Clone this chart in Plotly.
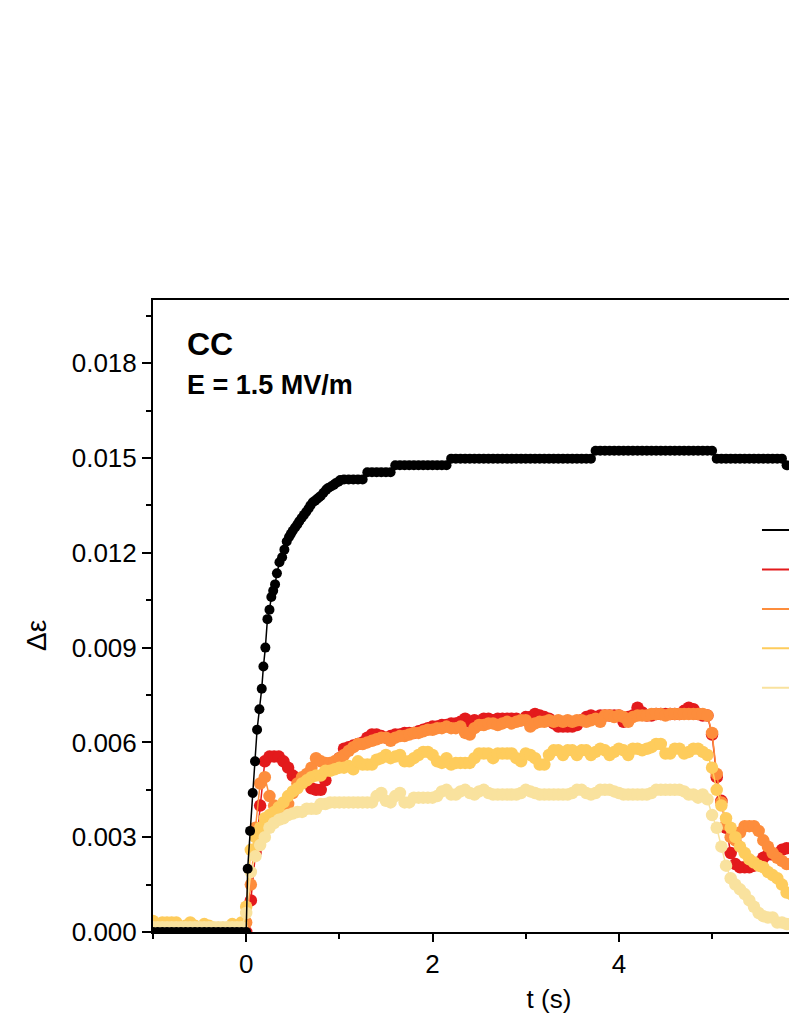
import plotly.graph_objects as go

# ---------------- data (strain in units of 1e-4) ----------------
# common time grid for the coloured series: -1.00 .. 6.00 s, step 0.05 s
T_START = -1.0
T_STEP = 0.05

red_v = [
    0.5, 0.5, 0.5, 0.5, 0.5, 0.5, 0.5, 0.5, 0.5, 0.5, 0.5, 0.5, 0.5, 0.5, 0.5, 0.5, 0.5, 0.5, 0.5, 0.5,
    0, 10, 25, 40, 54, 55.5, 55.5, 55.5, 54, 52, 49.5, 48.5, 48.5, 47.5, 45.5, 45, 45, 48, 52, 53,
    55, 58, 58.5, 59, 59.5, 60, 61.5, 62.5, 62.5, 62, 61.5, 62, 62.5, 62.5, 63, 63, 63, 63.5, 64, 64.5,
    65, 65, 65.5, 65.5, 66, 66, 66.5, 67.5, 66.5, 67, 66.5, 67.5, 67.5, 67, 67.5, 67.5, 67.5, 67.5, 67.5, 67,
    68, 68, 69, 68.5, 68, 67.5, 66, 65, 65, 65, 65, 65.5, 67, 68, 68.5, 68, 68.5, 68.5, 68.5, 68.5,
    68.5, 66.5, 68, 68.5, 71, 69.5, 68.5, 68.5, 69, 69, 69, 69, 69, 69, 70, 71, 70.5, 69, 68.5, 68.5,
    62.5, 49, 41.5, 33, 25, 21.5, 20.5, 20.5, 20.5, 21, 22, 23.5, 24.5, 24.5, 24.5, 26, 26.5, 26.5, 27, 27,
    27,
]

orange_v = [
    1, 1, 1, 1, 1, 1, 1, 1, 1, 1, 1, 1, 1, 1, 1, 1, 1, 1, 1, 1,
    3, 15, 33, 47, 49, 43, 40, 38.5, 38, 40.5, 44, 47, 49, 50, 52, 55, 54, 53.5, 53.5, 54,
    55, 56, 57.3, 58.5, 59.5, 59.5, 60, 60.5, 61, 61.5, 61.5, 60.5, 61.5, 62, 62, 62.5, 63, 63, 63.5, 64,
    64, 64.5, 64.5, 65, 64.5, 64.5, 65, 63, 62.5, 64.5, 65.5, 65.5, 66, 66, 65.5, 66, 66.5, 66, 66.5, 67,
    67, 65, 66, 66.5, 66.5, 67, 66.5, 67, 66.5, 67, 66.5, 67, 67, 66.5, 67, 67.5, 66.5, 68.5, 68.5, 68,
    68.5, 68, 66.5, 68, 68.5, 68.5, 68.5, 69, 69, 69, 68.5, 69, 69, 69, 69, 69, 69, 69, 69, 68.5,
    63, 50, 41, 34, 30, 29, 31.5, 33.5, 33.5, 33.5, 32, 29, 27, 25, 23.5, 22.5, 21.5, 21.5, 21.5, 21,
    21,
]

yellow_v = [
    3.5, 2.5, 3, 3, 3, 3, 1.5, 2, 3, 2, 1.5, 2.5, 2, 1, 1, 1, 1, 2.5, 2, 3,
    8, 26, 30, 33, 36, 37, 38, 39.5, 41, 43, 44.5, 45.5, 47, 48, 49, 49.5, 49.5, 51, 51, 51.5,
    52, 52, 52.5, 51.5, 54, 53, 53, 53, 54.5, 55, 56, 55, 55.5, 56, 54, 54, 55, 56, 57, 57,
    56, 54, 53.5, 55, 53, 53.5, 53.5, 53.5, 53.5, 55, 56.5, 56.5, 56.5, 55, 56.5, 56.5, 56.5, 56.5, 55, 54,
    56.5, 56, 55, 53, 53, 56, 57.5, 57.5, 56, 57.5, 57.5, 56, 57.5, 57.5, 56, 57, 58, 57.5, 56, 57,
    58, 57.5, 56, 58, 58, 57.5, 58, 58.5, 59.5, 59.5, 56.5, 56.5, 58, 58, 56.5, 57, 58, 58, 57, 56,
    52, 45, 40, 36, 33, 30, 27, 25, 23, 22, 21, 20.5, 19, 18, 17, 15, 12.5, 12, 12, 12,
    12,
]

pale_v = [
    1.5, 1.5, 1.5, 1.5, 1.5, 1.5, 1.5, 1.5, 1.5, 1.5, 1.5, 1.5, 1.5, 1.5, 1.5, 1.5, 1.5, 1.5, 1.5, 1.5,
    6, 19, 24, 27.5, 30, 33, 34.5, 35.5, 36, 37, 37.5, 38, 38, 39, 39, 39, 40.5, 40.5, 41, 41,
    41, 41, 41, 41, 41, 41, 41, 41, 43, 44, 41.5, 41, 43, 44, 41, 41, 42.5, 42.5, 42.5, 42.5,
    42.5, 43, 44.5, 45, 43.5, 43.5, 44.5, 45, 44, 43.5, 44.5, 45, 44, 43.5, 43.5, 43.5, 43.5, 43.5, 43.5, 44,
    45, 44.5, 44, 43.5, 43.5, 43.5, 43.5, 43.5, 43.5, 43.5, 44, 45, 45, 44, 43.5, 44, 45, 45, 45, 44.5,
    44, 43.5, 43.5, 43.5, 43.5, 43.5, 43.5, 44, 45, 45, 45, 45, 45, 45, 44.5, 43.5, 43.5, 42.5, 43.5, 42,
    37, 33, 27, 21, 17, 15, 13.5, 12, 10, 8, 6, 5, 4.6, 4.6, 3, 3, 2.5, 2.5, 2.5, 2.5,
    2.5,
]

# black series has its own (denser during the rise) time stamps
black_pre_v = [
    0, 0, 0, 0, 0, 0, 0, 0, 0, 0, 0, 0, 0, 0, 0, 0, 0, 0, 0, 0, 0,
]
black_rise_t = [0.016, 0.042, 0.07, 0.095, 0.117, 0.142, 0.167, 0.185, 0.206, 0.228,
                0.25, 0.27, 0.29, 0.31, 0.33, 0.357, 0.386, 0.41, 0.435, 0.46,
                0.48, 0.50, 0.525, 0.55, 0.57, 0.595, 0.62, 0.645, 0.67, 0.69,
                0.715, 0.74, 0.76, 0.78, 0.80, 0.83, 0.86, 0.88, 0.91, 0.94,
                0.96, 0.99, 1.01]
black_rise_v = [20, 32, 44, 54, 64, 70.5, 77, 84, 90, 99,
                102, 106, 108, 110, 113.5, 117, 118.6, 121, 123.6, 125,
                126, 127, 128, 129, 130, 131, 132, 133, 134, 135,
                136, 136.5, 137, 137.5, 138, 139, 140, 140.5, 141, 141.5,
                142, 142.5, 143]
# 1.05 .. 6.00 s, step 0.05 s
black_flat_v = [
    143.2, 143.2, 143.2, 143.2, 143.2,
    145.5, 145.5, 145.5, 145.5, 145.5, 145.5,
    147.7, 147.7, 147.7, 147.7, 147.7, 147.7, 147.7, 147.7, 147.7, 147.7, 147.7, 147.7,
    149.8, 149.8, 149.8, 149.8, 149.8, 149.8, 149.8, 149.8, 149.8, 149.8,
    149.8, 149.8, 149.8, 149.8, 149.8, 149.8, 149.8, 149.8, 149.8, 149.8,
    149.8, 149.8, 149.8, 149.8, 149.8, 149.8, 149.8, 149.8, 149.8, 149.8, 149.8,
    152.3, 152.3, 152.3, 152.3, 152.3, 152.3, 152.3, 152.3, 152.3, 152.3,
    152.3, 152.3, 152.3, 152.3, 152.3, 152.3, 152.3, 152.3, 152.3, 152.3,
    152.3, 152.3, 152.3, 152.3, 152.3, 152.3,
    149.8, 149.8, 149.8, 149.8, 149.8, 149.8, 149.8, 149.8, 149.8, 149.8,
    149.8, 149.8, 149.8, 149.8, 149.8,
    147.7, 147.7, 147.7, 147.7, 147.7,
]

series_names = ["Series 1", "Series 2", "Series 3", "Series 4", "Series 5"]
series_colors = ["#000000", "#E31A1C", "#FD8D3C", "#FECC5C", "#F9E29E"]

x_ticks = [0, 2, 4]
y_ticks = [0.000, 0.003, 0.006, 0.009, 0.012, 0.015, 0.018]

# ---------------- build ----------------
SCALE = 1e-4
grid_t = [round(T_START + T_STEP * i, 3) for i in range(len(red_v))]
black_t = ([round(T_START + T_STEP * i, 3) for i in range(len(black_pre_v))]
           + black_rise_t
           + [round(1.05 + T_STEP * i, 3) for i in range(len(black_flat_v))])
black_v = black_pre_v + black_rise_v + black_flat_v

FONT = "Liberation Sans, Arial, Helvetica, sans-serif"
fig = go.Figure()

coloured = [(red_v, 1), (orange_v, 2), (yellow_v, 3), (pale_v, 4)]
for vals, k in coloured:
    fig.add_trace(go.Scatter(
        x=grid_t, y=[v * SCALE for v in vals], mode="lines+markers",
        line=dict(color=series_colors[k], width=1.5),
        marker=dict(color=series_colors[k], size=12.5, line=dict(width=0)),
        showlegend=False, name=series_names[k]))

fig.add_trace(go.Scatter(
    x=black_t, y=[v * SCALE for v in black_v], mode="lines+markers",
    line=dict(color="#000000", width=1.5),
    marker=dict(color="#000000", size=10, line=dict(width=0)),
    showlegend=False, name=series_names[0]))

# legend line samples (their labels lie beyond the right edge of the view)
for k in range(5):
    fig.add_trace(go.Scatter(
        x=[None], y=[None], mode="lines", name="",
        line=dict(color=series_colors[k], width=2), showlegend=True))

fig.add_annotation(text="<b>CC</b>", xref="paper", yref="paper", x=0.041, y=0.93,
                   xanchor="left", yanchor="middle", showarrow=False,
                   font=dict(family=FONT, size=32, color="black"))
fig.add_annotation(text="<b>E = 1.5 MV/m</b>", xref="paper", yref="paper", x=0.041, y=0.865,
                   xanchor="left", yanchor="middle", showarrow=False,
                   font=dict(family=FONT, size=27, color="black"))
fig.add_annotation(text="Δε", xref="paper", yref="paper", x=-0.1465, y=0.47,
                   xanchor="center", yanchor="middle", textangle=-90, showarrow=False,
                   font=dict(family=FONT, size=28, color="black"))

fig.update_layout(
    width=1005, height=1021,
    margin=dict(l=153, r=60, t=300, b=89),
    paper_bgcolor="white", plot_bgcolor="white",
    font=dict(family=FONT, size=26, color="black"),
    legend=dict(x=0.7626, y=0.675, xanchor="left", yanchor="top",
                bgcolor="rgba(0,0,0,0)", font=dict(size=28),
                tracegroupgap=0),
    xaxis=dict(range=[-1, 7.5], tickvals=x_ticks, ticks="outside", ticklen=8, tickwidth=2,
               tickcolor="black", showline=True, linewidth=2, linecolor="black",
               mirror=True, showgrid=False, zeroline=False,
               minor=dict(dtick=1, tick0=0, ticks="outside", ticklen=5, tickwidth=2,
                          tickcolor="black", showgrid=False),
               title=dict(text="t (s)", font=dict(size=26), standoff=12),
               tickfont=dict(size=26)),
    yaxis=dict(range=[0, 0.02], tickvals=y_ticks, tickformat=".3f", ticks="outside",
               ticklen=9, tickwidth=2, tickcolor="black", showline=True, linewidth=2,
               linecolor="black", mirror=True, showgrid=False, zeroline=False,
               minor=dict(dtick=0.0015, tick0=0, ticks="outside", ticklen=5, tickwidth=2,
                          tickcolor="black", showgrid=False),
               tickfont=dict(size=26)),
)

fig.write_html("out.html", config={"displayModeBar": False},
               post_script="document.body.style.margin='0';document.body.style.overflow='hidden';")
